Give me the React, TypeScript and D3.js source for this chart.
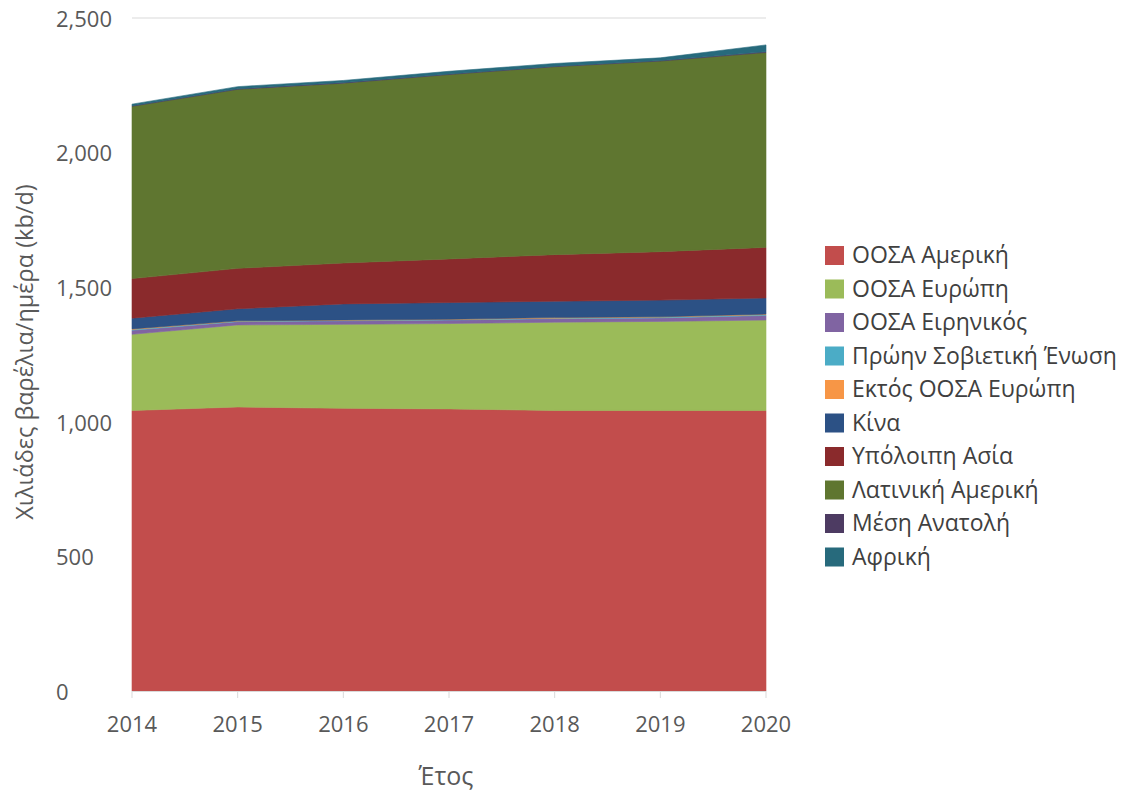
import React from "react";
import * as d3 from "d3";

const years = [2014, 2015, 2016, 2017, 2018, 2019, 2020];
const seriesNames = [
  "ΟΟΣΑ Αμερική",
  "ΟΟΣΑ Ευρώπη",
  "ΟΟΣΑ Ειρηνικός",
  "Πρώην Σοβιετική Ένωση",
  "Εκτός ΟΟΣΑ Ευρώπη",
  "Κίνα",
  "Υπόλοιπη Ασία",
  "Λατινική Αμερική",
  "Μέση Ανατολή",
  "Αφρική",
];
const oecdAmerica = [1042, 1055, 1050, 1048, 1042, 1042, 1042];
const oecdEurope = [283, 305, 312, 317, 328, 331, 336];
const oecdPacific = [15, 12, 13, 13, 13, 13, 17];
const formerSoviet = [3, 2, 2, 2, 2, 3, 3];
const nonOecdEurope = [2, 1, 1, 1, 2, 1, 2];
const china = [40, 45, 60, 62, 61, 62, 60];
const otherAsia = [147, 150, 152, 162, 173, 180, 188];
const latinAmerica = [640, 665, 668, 685, 698, 708, 724];
const middleEast = [2, 2, 2, 2, 2, 2, 3];
const africa = [6, 8, 8, 10, 10, 10, 25];
const yTicks = [0, 500, 1000, 1500, 2000, 2500];

const seriesValues = [
  oecdAmerica, oecdEurope, oecdPacific, formerSoviet, nonOecdEurope,
  china, otherAsia, latinAmerica, middleEast, africa,
];
const colors = [
  "#c24d4c", "#9bbb59", "#8064a2", "#4bacc6", "#f79646",
  "#2c5185", "#8a2a2c", "#5f7630", "#4d3b62", "#276a7c",
];

export default function App() {
  const W = 1130, H = 791;
  const x0 = 132, x1 = 766, yTop = 18, yBot = 691;
  const x = d3.scaleLinear().domain([2014, 2020]).range([x0, x1]);
  const y = d3.scaleLinear().domain([0, 2500]).range([yBot, yTop]);

  const rows = years.map((yr, i) => {
    const r: any = { year: yr };
    seriesNames.forEach((n, k) => (r[n] = seriesValues[k][i]));
    return r;
  });
  const stacked = d3.stack().keys(seriesNames)(rows as any);
  const area = d3
    .area<any>()
    .x((d) => x(d.data.year))
    .y0((d) => y(d[0]))
    .y1((d) => y(d[1]));

  const font = "'Open Sans', 'Noto Sans', sans-serif";
  const txt = "#595959";

  return (
    <svg width={W} height={H} style={{ position: "absolute", left: 0, top: 0, background: "#fff" }}>
      <rect width={W} height={H} fill="#fff" />
      {yTicks.map((t) => (
        <line key={t} x1={x0} x2={x1} y1={y(t)} y2={y(t)} stroke="#d9d9d9" strokeWidth={1} />
      ))}
      {stacked.map((s, k) => (
        <path key={k} d={area(s as any) || ""} fill={colors[k]} stroke={colors[k]} strokeWidth={0.6} />
      ))}
      <line x1={x0} x2={x1} y1={yBot + 0.5} y2={yBot + 0.5} stroke="#d9d9d9" />
      {years.map((yr) => (
        <line key={yr} x1={x(yr)} x2={x(yr)} y1={yBot} y2={yBot + 7} stroke="#d9d9d9" />
      ))}
      {yTicks.map((t) => (
        <text key={t} x={56} y={y(t) + 1} dy="0.35em" textAnchor="start" fontFamily={font} fontSize={22} fill={txt}>
          {d3.format(",")(t)}
        </text>
      ))}
      {years.map((yr) => (
        <text key={yr} x={x(yr)} y={724} dy="0.35em" textAnchor="middle" fontFamily={font} fontSize={22} fill={txt}>
          {yr}
        </text>
      ))}
      <text x={446} y={776} dy="0.35em" textAnchor="middle" fontFamily={font} fontSize={25} fill={txt}>
        Έτος
      </text>
      <text
        transform={`translate(25, 352) rotate(-90)`}
        dy="0.35em"
        textAnchor="middle"
        fontFamily={font}
        fontSize={23.5}
        fill={txt}
      >
        Χιλιάδες βαρέλια/ημέρα (kb/d)
      </text>
      {seriesNames.map((n, k) => (
        <g key={n} transform={`translate(825, ${255 + k * 33.5})`}>
          <rect x={0} y={-9} width={19} height={19} fill={colors[k]} />
          <text x={27} y={0} dy="0.35em" fontFamily={font} fontSize={23} fill="#404040">
            {n}
          </text>
        </g>
      ))}
    </svg>
  );
}
